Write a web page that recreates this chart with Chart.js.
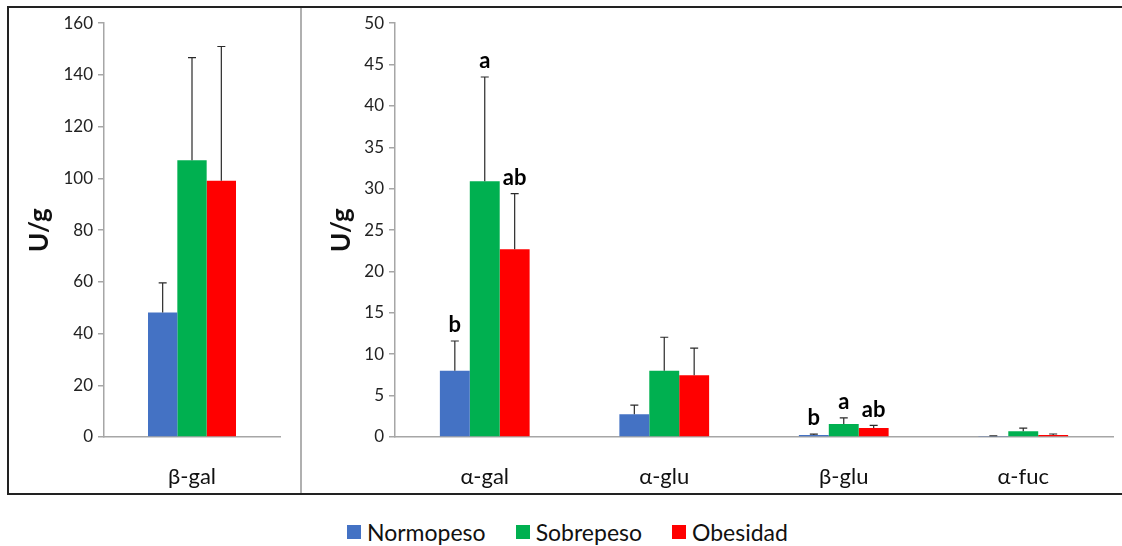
<!DOCTYPE html>
<html>
<head>
<meta charset="utf-8">
<script src="https://cdn.jsdelivr.net/npm/chart.js@4"></script>
<style>
  body { margin: 0; background: #fff; width: 1122px; height: 546px; position: relative; overflow: hidden; font-family: Lato, sans-serif; }
  #frame { position: absolute; left: 7px; top: 6px; width: 1120px; height: 485px; border-top: 2px solid #222; border-bottom: 2px solid #222; border-left: 2px solid #222; }
  #divider { position: absolute; left: 300px; top: 8px; width: 2px; height: 485px; background: #b0b0b0; }
  #leftBox { position: absolute; left: 9px; top: 8px; width: 291px; height: 485px; }
  #rightBox { position: absolute; left: 302px; top: 8px; width: 820px; height: 485px; }
  #legend { position: absolute; left: 347px; top: 518px; display: flex; align-items: center; font-size: 23px; line-height: 28px; color: #111; }
  #legend span.sw { display: inline-block; width: 14px; height: 14px; margin-right: 6px; }
  #legend .item { display: flex; align-items: center; margin-right: 30px; }
</style>
</head>
<body>
<div id="frame"></div>
<div id="divider"></div>
<div id="leftBox"><canvas id="leftChart"></canvas></div>
<div id="rightBox"><canvas id="rightChart"></canvas></div>
<div id="legend"></div>
<script>
// series names and colours
const seriesNames = ['Normopeso', 'Sobrepeso', 'Obesidad'];
const seriesColors = ['#4472C4', '#00B050', '#FF0000'];

// left panel (β-gal)
const leftLabels = ['β-gal'];
const leftNormo = [48.1];
const leftSobre = [107.0];
const leftObes = [99.1];
const leftNormoSD = [11.5];
const leftSobreSD = [39.7];
const leftObesSD = [51.9];
const leftTicks = [0, 20, 40, 60, 80, 100, 120, 140, 160];

// right panel
const rightLabels = ['α-gal', 'α-glu', 'β-glu', 'α-fuc'];
const rightNormo = [8.0, 2.75, 0.25, 0.12];
const rightSobre = [30.9, 8.0, 1.57, 0.68];
const rightObes = [22.7, 7.45, 1.1, 0.25];
const rightNormoSD = [3.6, 1.1, 0.1, 0.03];
const rightSobreSD = [12.6, 4.05, 0.73, 0.4];
const rightObesSD = [6.7, 3.3, 0.3, 0.11];
const rightNormoLetters = ['b', '', 'b', ''];
const rightSobreLetters = ['a', '', 'a', ''];
const rightObesLetters = ['ab', '', 'ab', ''];
const rightTicks = [0, 5, 10, 15, 20, 25, 30, 35, 40, 45, 50];

// legend
const legendEl = document.getElementById('legend');
seriesNames.forEach((n, i) => {
  const d = document.createElement('div');
  d.className = 'item';
  d.innerHTML = '<span class="sw" style="background:' + seriesColors[i] + '"></span>' + n;
  legendEl.appendChild(d);
});

// error bars + significance letters
const errorPlugin = {
  id: 'errorBars',
  afterDatasetsDraw(chart) {
    const ctx = chart.ctx;
    const yScale = chart.scales.y;
    chart.data.datasets.forEach((ds, i) => {
      const meta = chart.getDatasetMeta(i);
      meta.data.forEach((bar, j) => {
        const top = yScale.getPixelForValue(ds.data[j] + ds.sd[j]);
        const base = yScale.getPixelForValue(ds.data[j]);
        ctx.save();
        ctx.strokeStyle = '#2a2a2a';
        ctx.lineWidth = 1.2;
        ctx.beginPath();
        ctx.moveTo(bar.x, base);
        ctx.lineTo(bar.x, top);
        ctx.moveTo(bar.x - 4, top);
        ctx.lineTo(bar.x + 4, top);
        ctx.stroke();
        if (ds.letters && ds.letters[j]) {
          ctx.fillStyle = '#000';
          ctx.font = 'bold 22px Lato';
          ctx.textAlign = 'center';
          ctx.textBaseline = 'bottom';
          ctx.fillText(ds.letters[j], bar.x, top - 5);
        }
        ctx.restore();
      });
    });
  }
};

function makeDatasets(vals, sds, letters) {
  return seriesNames.map((n, i) => ({
    label: n,
    data: vals[i],
    sd: sds[i],
    letters: letters ? letters[i] : null,
    backgroundColor: seriesColors[i],
    borderWidth: 0,
    categoryPercentage: 0.5,
    barPercentage: 1.0
  }));
}

function makeOptions(max, ticks, yWidth, titlePad, xHeight, padRight) {
  return {
    responsive: false,
    animation: false,
    maintainAspectRatio: false,
    layout: { padding: { top: 14, right: padRight, left: 0, bottom: 0 } },
    plugins: { legend: { display: false }, tooltip: { enabled: false } },
    scales: {
      x: {
        grid: { display: false },
        border: { display: true, color: '#a6a6a6', width: 1.5 },
        ticks: { color: '#111', font: { family: 'Lato', size: 22 }, padding: 19 },
        afterFit: s => { s.height = xHeight; }
      },
      y: {
        min: 0,
        max: max,
        afterBuildTicks: s => { s.ticks = ticks.map(v => ({ value: v })); },
        grid: { drawOnChartArea: false, drawTicks: true, tickLength: 6, color: '#a6a6a6', lineWidth: 1.5 },
        border: { display: true, color: '#a6a6a6', width: 1.5 },
        ticks: { color: '#222', font: { family: 'Lato', size: 17 }, padding: 5 },
        title: { display: true, text: 'U/g', color: '#111', font: { family: 'Lato', size: 26, weight: 'bold' }, padding: { top: titlePad } },
        afterFit: s => { s.width = yWidth; }
      }
    }
  };
}

const leftCanvas = document.getElementById('leftChart');
leftCanvas.width = 291; leftCanvas.height = 485;
new Chart(leftCanvas, {
  type: 'bar',
  data: {
    labels: leftLabels,
    datasets: makeDatasets([leftNormo, leftSobre, leftObes], [leftNormoSD, leftSobreSD, leftObesSD], null)
  },
  options: makeOptions(160, leftTicks, 95, 15, 56, 20),
  plugins: [errorPlugin]
});

const rightCanvas = document.getElementById('rightChart');
rightCanvas.width = 820; rightCanvas.height = 485;
new Chart(rightCanvas, {
  type: 'bar',
  data: {
    labels: rightLabels,
    datasets: makeDatasets([rightNormo, rightSobre, rightObes], [rightNormoSD, rightSobreSD, rightObesSD],
      [rightNormoLetters, rightSobreLetters, rightObesLetters])
  },
  options: makeOptions(50, rightTicks, 93, 24, 56, 9),
  plugins: [errorPlugin]
});
</script>
</body>
</html>
